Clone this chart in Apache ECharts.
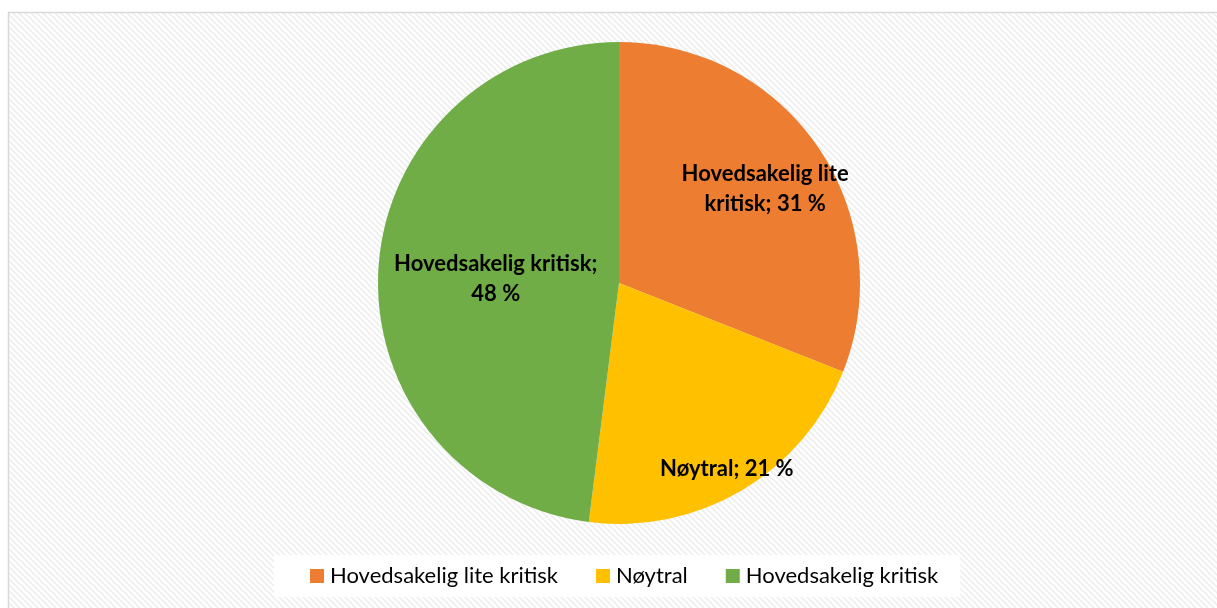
<!DOCTYPE html>
<html>
<head>
<meta charset="utf-8">
<script src="https://cdn.jsdelivr.net/npm/echarts@6/dist/echarts.min.js"></script>
<style>
 html, body { margin: 0; padding: 0; background: #fff; }
 #chart { width: 1217px; height: 608px; }
</style>
</head>
<body>
<div id="chart"></div>
<script>
 var categories = ["Hovedsakelig lite kritisk", "Nøytral", "Hovedsakelig kritisk"];
 var values = [31, 21, 48];
 var colors = ["#ed7d31", "#ffc000", "#70ad47"];

 // label nudges, Excel style "best fit"
 var labelShift = [[44, -25], [45, 80], [0, 4]];

 // diagonal hatch for the chart area
 var hatch = document.createElement("canvas");
 hatch.width = 6;
 hatch.height = 6;
 var hc = hatch.getContext("2d");
 hc.fillStyle = "#ffffff";
 hc.fillRect(0, 0, 6, 6);
 hc.strokeStyle = "#eeeeee";
 hc.lineWidth = 1.6;
 hc.beginPath();
 hc.moveTo(-3, -3); hc.lineTo(9, 9);
 hc.moveTo(-3, 3); hc.lineTo(3, 9);
 hc.moveTo(3, -3); hc.lineTo(9, 3);
 hc.stroke();

 var pieData = [];
 for (var i = 0; i < categories.length; i++) {
  pieData.push({ value: values[i], name: categories[i], itemStyle: { color: colors[i] } });
 }

 var myChart = echarts.init(document.getElementById("chart"));
 var option = {
  backgroundColor: "#ffffff",
  animation: false,
  graphic: [{
   type: "rect",
   z: -10,
   shape: { x: 8.5, y: 12.5, width: 1220, height: 610 },
   style: { fill: { image: hatch, repeat: "repeat" }, stroke: "#d9d9d9", lineWidth: 1.5 }
  }],
  legend: {
   top: 555,
   left: 274,
   backgroundColor: "#ffffff",
   padding: [10, 22, 10, 36],
   itemWidth: 14,
   itemHeight: 14,
   itemGap: 38,
   icon: "rect",
   data: categories,
   textStyle: { fontFamily: "Lato", fontSize: 22, color: "#000", padding: [0, 0, 0, 1] }
  },
  series: [{
   type: "pie",
   center: [619, 283],
   radius: 241,
   startAngle: 90,
   clockwise: true,
   data: pieData,
   itemStyle: { borderWidth: 0 },
   label: {
    show: true,
    position: "inside",
    fontFamily: "Lato",
    fontWeight: "bold",
    fontSize: 22,
    lineHeight: 30,
    color: "#000",
    formatter: function(p) {
     if (p.dataIndex === 0) return "Hovedsakelig lite\nkritisk; " + p.value + " %";
     if (p.dataIndex === 2) return "Hovedsakelig kritisk;\n" + p.value + " %";
     return p.name + "; " + p.value + " %";
    }
   },
   labelLayout: function(p) {
    return { dx: labelShift[p.dataIndex][0], dy: labelShift[p.dataIndex][1] };
   },
   emphasis: { disabled: true }
  }]
 };
 myChart.setOption(option);
</script>
</body>
</html>
